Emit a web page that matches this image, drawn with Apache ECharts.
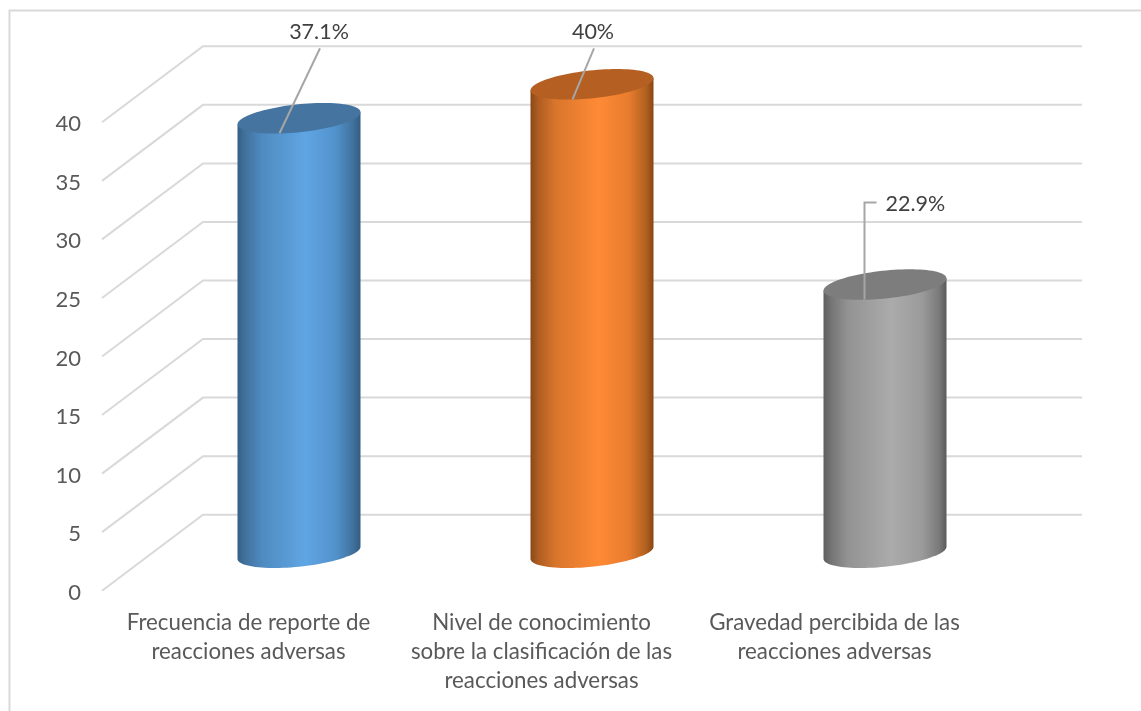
<!DOCTYPE html>
<html>
<head>
<meta charset="utf-8">
<style>html,body{margin:0;padding:0;background:#fff}#chart{width:1141px;height:711px}</style>
<script src="https://cdn.jsdelivr.net/npm/echarts@6/dist/echarts.min.js"></script>
</head>
<body>
<div id="chart"></div>
<script>
// Survey results, in percent
const categories = [
  'Frecuencia de reporte de\nreacciones adversas',
  'Nivel de conocimiento\nsobre la clasificación de las\nreacciones adversas',
  'Gravedad percibida de las\nreacciones adversas'
];
const values = [37.1, 40, 22.9];
const valueLabels = ['37.1%', '40%', '22.9%'];
const yTicks = [0, 5, 10, 15, 20, 25, 30, 35, 40];

// Depth of the floor: the grid is the front plane, walls sit one full depth behind it
const DEPTH_X = 101, DEPTH_Y = 76;

// Cylinder appearance, one entry per category
const stopOffsets = [0, 0.06, 0.2, 0.55, 0.8, 0.94, 1];
const bodyStops = [
  ['#335f86', '#41719c', '#4f8bc1', '#60a5e3', '#5192cc', '#41719c', '#335d82'],
  ['#8a4814', '#ad5c22', '#d8752c', '#ff8a35', '#e87c2e', '#b1601f', '#884611'],
  ['#5e5e5e', '#747474', '#939393', '#ababab', '#9b9b9b', '#7a7a7a', '#5a5a5a']
];
const capColors = ['#44749f', '#b55f22', '#7d7d7d'];

// Leader lines: where the label sits relative to the cap centre, and any sideways elbow
const leaders = [
  { dx: 21, dy: -70, labelDx: -1, labelDy: -16.5, align: 'center' },
  { dx: 2, dy: -36, labelDx: -1, labelDy: -16.5, align: 'center' },
  { dx: -20.5, dy: -82, elbow: 12, labelDx: 9, labelDy: 2, align: 'left' }
];

const RX = 61.76, RY = 14.2, TILT = 5.4 * Math.PI / 180;
const GRID_COLOR = '#d9d9d9';
const FONT = 'Lato, sans-serif';

// Point on the tilted ellipse that draws a cylinder end
function ellipsePoint(cx, cy, t) {
  const c = Math.cos(t), s = Math.sin(t);
  return [
    cx + RX * c * Math.cos(TILT) - RY * s * Math.sin(TILT),
    cy - RX * c * Math.sin(TILT) + RY * s * Math.cos(TILT)
  ];
}

function renderWall(params, api) {
  const rect = params.coordSys;
  const y = api.coord([0, api.value(1)])[1];
  return {
    type: 'polyline',
    shape: { points: [[rect.x, y], [rect.x + DEPTH_X, y - DEPTH_Y], [rect.x + DEPTH_X + rect.width, y - DEPTH_Y]] },
    style: { stroke: GRID_COLOR, lineWidth: 2, fill: null },
    silent: true
  };
}

function renderCylinder(params, api) {
  const i = params.dataIndex;
  const front = api.coord([i, 0]);
  const cx = front[0] + DEPTH_X / 2;
  const base = front[1] - DEPTH_Y / 2;
  const top = api.coord([i, api.value(1)])[1] - DEPTH_Y / 2;

  // Parameter of the rightmost and leftmost point of the ellipse
  const tRight = Math.atan2(-RY * Math.sin(TILT), RX * Math.cos(TILT));
  const tLeft = tRight + Math.PI;
  const pts = [ellipsePoint(cx, top, tLeft)];
  for (let k = 0; k <= 48; k++) {
    pts.push(ellipsePoint(cx, base, tLeft - k / 48 * Math.PI));
  }
  pts.push(ellipsePoint(cx, top, tRight));

  const stops = bodyStops[i].map((color, k) => ({ offset: stopOffsets[k], color }));
  const capPts = [];
  for (let k = 0; k < 96; k++) capPts.push(ellipsePoint(cx, top, k / 96 * 2 * Math.PI));

  const lead = leaders[i];
  const children = [
    { type: 'polygon', shape: { points: pts },
      style: { fill: new echarts.graphic.LinearGradient(0, 0, 1, 0, stops) } },
    { type: 'polygon', shape: { points: capPts }, style: { fill: capColors[i] } }
  ];

  const x = cx + lead.dx, y = top + lead.dy;
  let labelX = x + lead.labelDx;
  if (lead.elbow) {
    children.push({ type: 'polyline', shape: { points: [[x, top + 15], [x, y], [x + lead.elbow, y]] },
      style: { stroke: '#a6a6a6', lineWidth: 2, fill: null } });
    labelX += lead.elbow;
  } else {
    children.push({ type: 'line', shape: { x1: cx - 19.5, y1: top + 15, x2: x, y2: y },
      style: { stroke: '#a6a6a6', lineWidth: 2 } });
  }
  children.push({ type: 'text', x: labelX, y: y + lead.labelDy,
    style: { text: valueLabels[i], fill: '#404040', font: '21.5px ' + FONT,
             align: lead.align, verticalAlign: 'middle' } });
  return { type: 'group', children, silent: true };
}

const chart = echarts.init(document.getElementById('chart'), null, { renderer: 'canvas' });
chart.setOption({
  animation: false,
  backgroundColor: '#ffffff',
  textStyle: { fontFamily: FONT },
  // Frame of the chart area: only its top and left edges fall inside the page
  graphic: [
    { type: 'polyline', silent: true, z: 0,
      shape: { points: [[9.5, 711], [9.5, 10.5], [1141, 10.5]] },
      style: { stroke: GRID_COLOR, lineWidth: 2, fill: null } }
  ],
  grid: { left: 102, width: 879, top: 122.3, height: 468.4 },
  xAxis: {
    type: 'category',
    data: categories,
    axisLine: { show: false },
    axisTick: { show: false },
    axisLabel: { interval: 0, color: '#595959', fontSize: 22.3, lineHeight: 29, margin: 18, fontFamily: FONT }
  },
  yAxis: {
    type: 'value', min: 0, max: 40, interval: 5,
    axisLine: { show: false },
    axisTick: { show: false },
    splitLine: { show: false },
    // Numbers hang slightly below the front end of their wall line
    axisLabel: { color: '#595959', fontSize: 22, margin: 21, verticalAlign: 'top', lineHeight: 4, fontFamily: FONT }
  },
  series: [
    { type: 'custom', name: 'Paredes', z: 1, renderItem: renderWall,
      data: yTicks.map(v => [0, v]), encode: { x: 0, y: 1 }, silent: true },
    { type: 'custom', name: 'Porcentaje', z: 2, renderItem: renderCylinder,
      data: values.map((v, i) => [i, v]), encode: { x: 0, y: 1 }, silent: true }
  ]
});
</script>
</body>
</html>
